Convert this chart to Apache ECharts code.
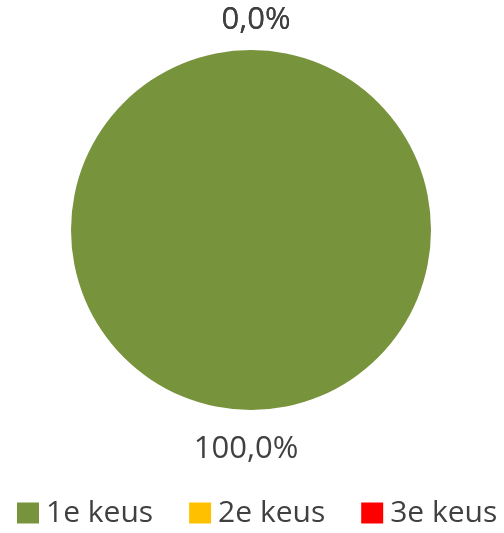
<!DOCTYPE html>
<html><head><meta charset="utf-8">
<script src="https://cdn.jsdelivr.net/npm/echarts@6/dist/echarts.min.js"></script>
<style>html,body{margin:0;padding:0;background:#fff}#c{width:504px;height:533px}</style>
</head><body><div id="c"></div>
<script>
const categories = ['1e keus', '2e keus', '3e keus'];
const values = [100.0, 0.0, 0.0];
const colors = ['#77933C', '#FFC000', '#FF0000'];

const chart = echarts.init(document.getElementById('c'), null, {renderer: 'canvas'});
chart.setOption({
  animation: false,
  color: colors,
  legend: {
    bottom: 0,
    left: 12,
    itemWidth: 22,
    itemHeight: 21,
    itemGap: 36,
    icon: 'rect',
    textStyle: {fontFamily: 'Open Sans', fontSize: 30, color: '#404040', padding: [2, 0, 0, 2]},
    data: categories
  },
  series: [{
    type: 'pie',
    center: [251, 230],
    radius: 180,
    startAngle: 90,
    clockwise: true,
    avoidLabelOverlap: false,
    itemStyle: {borderWidth: 0},
    label: {
      show: true,
      position: 'outside',
      formatter: p => p.value.toFixed(1).replace('.', ',') + '%',
      fontFamily: 'Open Sans',
      fontSize: 31,
      color: '#404040'
    },
    labelLine: {show: false, length: 30, length2: 0},
    labelLayout: p => ({align: 'center', verticalAlign: 'middle', dy: p.dataIndex === 0 ? 9 : 0}),
    data: categories.map((c, i) => ({name: c, value: values[i]}))
  }]
});
</script></body></html>
